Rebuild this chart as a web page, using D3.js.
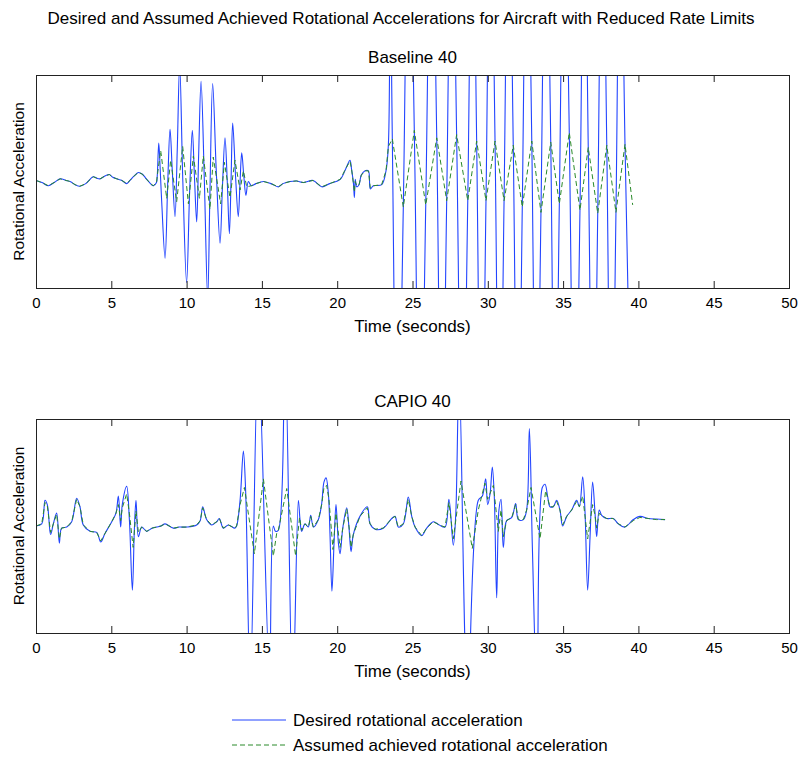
<!DOCTYPE html>
<html>
<head>
<meta charset="utf-8">
<script src="https://cdn.jsdelivr.net/npm/d3@7"></script>
<style>
  body { margin: 0; background: #fff; }
  svg { display: block; }
  text { font-family: "Liberation Sans", Arial, Helvetica, sans-serif; fill: #000; }
</style>
</head>
<body>
<svg id="chart" width="801" height="757"></svg>
<script>
// ---- data: [time (s), rotational acceleration (normalised)] ----
const timeTicks = [0, 5, 10, 15, 20, 25, 30, 35, 40, 45, 50];
const panelTitles = ["Baseline 40", "CAPIO 40"];
const seriesNames = ["Desired rotational acceleration", "Assumed achieved rotational acceleration"];

const baselineDesired = [
  [0, 0.01], [0.4, -0.01], [0.82, -0.04], [1.2, -0.01], [1.6, 0.025], [2.0, 0.01], [2.26, 0.0],
  [2.6, -0.03], [2.9, -0.045], [3.3, -0.02], [3.8, 0.045], [4.05, 0.03], [4.25, 0.025], [4.55, 0.05],
  [4.87, 0.065], [5.1, 0.04], [5.36, 0.025], [5.7, 0.01], [6.02, -0.02], [6.24, 0.01], [6.5, 0.05],
  [6.8, 0.085], [7.05, 0.07], [7.35, 0.02], [7.6, -0.02], [7.79, -0.04], [8.0, -0.01],
  [8.05, 0.05], [8.15, 0.36], [8.22, 0.2], [8.35, -0.2], [8.57, -0.72], [8.75, 0.0], [8.9, 0.49],
  [9.05, 0.1], [9.23, -0.33], [9.38, 0.3], [9.54, 1.1], [9.75, 0.0], [10.0, -0.95], [10.2, -0.1],
  [10.38, 0.48], [10.52, 0.05], [10.67, -0.38], [10.8, 0.25], [10.96, 0.94], [11.18, 0.0], [11.4, -1.1],
  [11.55, -0.1], [11.73, 0.92], [11.97, 0.1], [12.22, -0.58], [12.38, -0.05], [12.55, 0.41], [12.7, 0.0],
  [12.84, -0.49], [12.95, 0.0], [13.06, 0.55], [13.25, 0.05], [13.43, -0.33], [13.55, 0.0], [13.66, 0.27],
  [13.8, 0.05], [13.94, -0.13], [14.1, 0.0], [14.3, -0.04],
  [14.6, -0.02], [15.1, 0.0], [15.6, -0.02], [16.1, -0.05], [16.4, -0.02], [16.87, 0.0], [17.3, 0.005],
  [17.75, -0.01], [18.4, 0.01], [18.97, -0.05], [19.5, -0.02], [20.2, 0.02], [20.6, 0.13], [20.85, 0.2],
  [20.95, 0.12], [21.08, -0.02], [21.14, -0.15], [21.2, 0.02], [21.3, -0.05], [21.45, -0.03], [21.6, 0.06],
  [21.85, 0.1], [22.07, 0.1], [22.2, -0.07], [22.4, -0.04], [22.95, -0.03], [23.24, 0.1], [23.4, 0.35],
  [23.52, 2.0], [23.66, 0.40], [24.0, -3], [24.39, -0.24], [24.75, 3], [25.12, 0.48], [25.5, -3],
  [25.88, -0.22], [26.25, 3], [26.61, 0.41], [26.94, -3], [27.27, -0.18], [27.6, 3], [27.93, 0.44],
  [28.3, -3], [28.67, -0.18], [28.97, 3], [29.26, 0.38], [29.57, -3], [29.88, -0.18], [30.18, 3],
  [30.48, 0.38], [30.78, -3], [31.08, -0.18], [31.38, 3], [31.69, 0.34], [32.0, -3], [32.29, -0.24],
  [32.6, 3], [32.92, 0.38], [33.22, -3], [33.53, -0.29], [33.85, 3], [34.18, 0.37], [34.46, -3],
  [34.75, -0.21], [35.08, 3], [35.41, 0.46], [35.76, -3], [36.12, -0.27], [36.4, 3], [36.67, 0.32],
  [37.0, -3], [37.3, -0.3], [37.6, 3], [37.9, 0.34], [38.2, -3], [38.51, -0.29], [38.8, 3], [39.11, 0.35],
  [39.6, -3]
];

const baselineAchieved = [
  [0, 0.01], [0.4, -0.01], [0.82, -0.04], [1.2, -0.01], [1.6, 0.025], [2.0, 0.01], [2.26, 0.0],
  [2.6, -0.03], [2.9, -0.045], [3.3, -0.02], [3.8, 0.045], [4.05, 0.03], [4.25, 0.025], [4.55, 0.05],
  [4.87, 0.065], [5.1, 0.04], [5.36, 0.025], [5.7, 0.01], [6.02, -0.02], [6.24, 0.01], [6.5, 0.05],
  [6.8, 0.085], [7.05, 0.07], [7.35, 0.02], [7.6, -0.02], [7.79, -0.04], [8.0, -0.01],
  [8.05, 0.05], [8.28, 0.29], [8.68, -0.16], [8.94, 0.2], [9.34, -0.19], [9.74, 0.33], [10.12, -0.21],
  [10.45, 0.24], [10.85, -0.16], [11.11, 0.24], [11.55, -0.26], [11.77, 0.23], [12.26, -0.21],
  [12.51, 0.18], [12.88, -0.15], [13.21, 0.2], [13.55, -0.08], [13.77, 0.1], [13.99, -0.05], [14.3, -0.04],
  [14.6, -0.02], [15.1, 0.0], [15.6, -0.02], [16.1, -0.05], [16.4, -0.02], [16.87, 0.0], [17.3, 0.005],
  [17.75, -0.01], [18.4, 0.01], [18.97, -0.05], [19.5, -0.02], [20.2, 0.02], [20.6, 0.13], [20.85, 0.19],
  [20.95, 0.12], [21.08, -0.02], [21.14, -0.1], [21.2, 0.0], [21.3, -0.04], [21.45, -0.03], [21.6, 0.06],
  [21.85, 0.1], [22.07, 0.1], [22.2, -0.06], [22.4, -0.04], [22.95, -0.03], [23.24, 0.1], [23.4, 0.33],
  [23.66, 0.40], [24.39, -0.24], [25.12, 0.48], [25.88, -0.22], [26.61, 0.41], [27.27, -0.18],
  [27.93, 0.44], [28.67, -0.18], [29.26, 0.38], [29.88, -0.18], [30.48, 0.38], [31.08, -0.18],
  [31.69, 0.34], [32.29, -0.24], [32.92, 0.38], [33.53, -0.29], [34.18, 0.37], [34.75, -0.21],
  [35.41, 0.46], [36.12, -0.27], [36.67, 0.32], [37.3, -0.3], [37.9, 0.34], [38.51, -0.29],
  [39.11, 0.35], [39.62, -0.22]
];

const capioDesired = [
  [0.0, 0.0], [0.38, 0.02], [0.6, 0.24], [0.75, 0.2], [0.97, -0.08], [1.15, 0.02], [1.37, 0.12],
  [1.55, -0.16], [1.7, -0.02], [2.04, -0.01], [2.37, 0.04], [2.7, 0.26], [2.92, 0.18], [3.14, 0.01],
  [3.59, -0.05], [4.03, -0.06], [4.3, -0.15], [4.58, -0.07], [5.03, 0.04], [5.31, 0.12], [5.47, 0.28],
  [5.62, -0.01], [5.73, 0.2], [6.02, 0.37], [6.2, 0.06], [6.4, -0.6], [6.53, -0.04], [6.64, 0.24],
  [6.8, -0.1], [7.02, -0.01], [7.35, -0.05], [7.7, -0.02], [8.01, -0.01], [8.3, 0.0], [8.57, 0.02],
  [9.12, -0.02], [9.5, -0.01], [10.0, -0.01], [10.67, 0.01], [10.9, 0.05], [11.07, 0.18], [11.33, 0.06],
  [11.66, 0.01], [12.0, 0.04], [12.17, 0.07], [12.44, -0.02], [12.77, 0.01], [13.2, -0.02], [13.32, 0.0],
  [13.55, 0.24], [13.77, 0.70], [13.92, 0.33], [14.23, -1.5], [14.76, 1.6], [15.5, -1.4], [15.76, 0.0],
  [15.9, -0.05], [16.09, -0.04], [16.53, 1.6], [17.04, -1.6], [17.42, 0.24], [17.53, 0.06], [17.64, -0.05],
  [17.86, 0.02], [18.08, -0.01], [18.24, 0.1], [18.42, -0.01], [18.75, 0.06], [18.97, 0.21], [19.12, 0.41],
  [19.26, 0.45], [19.41, 0.31], [19.52, -0.07], [19.65, -0.61], [19.79, -0.16], [19.92, 0.2], [20.08, -0.16],
  [20.19, -0.26], [20.37, -0.02], [20.63, 0.17], [20.78, -0.01], [20.92, -0.24], [21.07, -0.08], [21.51, 0.09],
  [22.0, 0.18], [22.18, 0.02], [22.51, -0.03], [23.06, -0.02], [23.62, 0.07], [23.84, 0.09], [24.06, -0.01],
  [24.39, 0.02], [24.72, 0.27], [24.95, 0.09], [25.17, -0.01], [25.61, -0.09], [25.94, -0.02], [26.38, 0.04],
  [26.78, 0.01], [27.16, -0.01], [27.42, 0.25], [27.71, -0.18], [27.87, 0.1], [28.1, 1.4], [28.66, -1.6],
  [29.37, 0.24], [29.64, 0.28], [29.86, 0.44], [29.99, 0.2], [30.15, 0.3], [30.3, 0.55], [30.43, 0.28],
  [30.59, -0.67], [30.74, 0.15], [30.88, 0.25], [31.03, -0.2], [31.25, 0.05], [31.59, 0.08], [31.85, 0.21],
  [32.03, 0.06], [32.36, 0.06], [32.58, 0.15], [32.76, 0.91], [32.96, -0.2], [33.27, -1.6], [33.62, 0.36],
  [33.8, 0.39], [33.98, 0.27], [34.13, 0.18], [34.35, 0.18], [34.57, 0.24], [34.79, 0.15], [34.97, 0.0],
  [35.24, 0.09], [35.57, 0.15], [35.9, 0.24], [36.08, 0.18], [36.3, 0.46], [36.45, 0.15], [36.63, -0.6],
  [36.79, -0.1], [36.96, 0.41], [37.12, 0.12], [37.23, -0.1], [37.4, 0.15], [37.56, 0.1], [37.89, 0.07],
  [38.33, 0.07], [38.67, 0.02], [39.1, -0.01], [39.66, 0.06], [40.1, 0.09], [40.66, 0.07], [41.2, 0.065],
  [41.77, 0.06]
];

const capioAchieved = [
  [0.0, 0.0], [0.38, 0.02], [0.6, 0.22], [0.75, 0.19], [0.97, -0.06], [1.15, 0.02], [1.37, 0.11],
  [1.55, -0.12], [1.7, -0.02], [2.04, -0.01], [2.37, 0.04], [2.7, 0.25], [2.92, 0.18], [3.14, 0.01],
  [3.59, -0.05], [4.03, -0.06], [4.3, -0.14], [4.58, -0.07], [5.03, 0.04], [5.31, 0.12], [5.47, 0.2],
  [5.62, 0.05], [5.73, 0.17], [6.02, 0.3], [6.2, 0.12], [6.45, -0.2], [6.64, 0.14], [6.8, -0.06],
  [7.02, -0.01], [7.35, -0.05], [7.7, -0.02], [8.01, -0.01], [8.3, 0.0], [8.57, 0.02],
  [9.12, -0.02], [9.5, -0.01], [10.0, -0.01], [10.67, 0.01], [10.9, 0.05], [11.07, 0.17], [11.33, 0.06],
  [11.66, 0.01], [12.0, 0.04], [12.17, 0.07], [12.44, -0.02], [12.77, 0.01], [13.2, -0.02], [13.32, 0.0],
  [13.55, 0.2], [13.84, 0.36], [14.5, -0.26], [15.1, 0.44], [15.76, -0.28], [15.98, -0.07], [16.09, -0.04],
  [16.65, 0.35], [17.24, -0.28], [17.5, 0.08], [17.64, -0.04],
  [17.86, 0.02], [18.08, -0.01], [18.24, 0.09], [18.42, -0.01], [18.75, 0.06], [18.97, 0.2], [19.12, 0.36],
  [19.3, 0.38], [19.45, 0.25], [19.72, -0.22], [19.92, 0.12], [20.19, -0.2], [20.37, -0.02], [20.63, 0.16],
  [20.78, 0.0], [20.92, -0.2], [21.07, -0.08], [21.51, 0.09],
  [22.0, 0.17], [22.18, 0.02], [22.51, -0.03], [23.06, -0.02], [23.62, 0.07], [23.84, 0.09], [24.06, -0.01],
  [24.39, 0.02], [24.72, 0.25], [24.95, 0.09], [25.17, -0.01], [25.61, -0.09], [25.94, -0.02], [26.38, 0.04],
  [26.78, 0.01], [27.16, -0.01], [27.42, 0.22], [27.71, -0.12], [27.87, 0.05], [28.22, 0.42], [28.97, -0.21],
  [29.37, 0.15], [29.81, 0.4], [29.99, 0.25], [30.37, 0.38], [30.7, -0.05], [30.88, 0.15], [31.03, -0.1],
  [31.25, 0.05], [31.59, 0.08], [31.85, 0.2], [32.03, 0.06], [32.36, 0.06], [32.58, 0.15], [32.87, 0.36],
  [33.47, -0.12], [33.84, 0.33], [34.13, 0.18], [34.35, 0.18], [34.57, 0.23], [34.79, 0.15], [34.97, 0.01],
  [35.24, 0.09], [35.57, 0.15], [35.9, 0.23], [36.08, 0.18], [36.3, 0.28], [36.63, -0.12], [36.96, 0.2],
  [37.12, 0.1], [37.23, -0.02], [37.4, 0.12], [37.56, 0.1], [37.89, 0.07],
  [38.33, 0.07], [38.67, 0.02], [39.1, -0.01], [39.66, 0.05], [40.1, 0.08], [40.66, 0.07], [41.2, 0.06],
  [41.77, 0.06]
];

// ---- layout ----
const svg = d3.select("#chart");
svg.append("rect").attr("width", 801).attr("height", 757).attr("fill", "#fff");

const plotLeft = 36, plotRight = 789;
const panels = [
  { title: panelTitles[0], desired: baselineDesired, achieved: baselineAchieved, top: 75, bottom: 288 },
  { title: panelTitles[1], desired: capioDesired, achieved: capioAchieved, top: 419, bottom: 633 }
];

const desiredColor = "#2244ff";
const achievedColor = "#2a8a2a";
const dash = "5,3";

svg.append("text")
  .attr("x", 401).attr("y", 24)
  .attr("text-anchor", "middle")
  .attr("font-size", 17)
  .text("Desired and Assumed Achieved Rotational Accelerations for Aircraft with Reduced Rate Limits");

const x = d3.scaleLinear().domain([0, 50]).range([plotLeft, plotRight]);

panels.forEach((p, i) => {
  const y = d3.scaleLinear().domain([-1, 1]).range([p.bottom, p.top]);
  const g = svg.append("g");

  const clipId = "clip" + i;
  svg.append("clipPath").attr("id", clipId)
    .append("rect")
    .attr("x", plotLeft).attr("y", p.top)
    .attr("width", plotRight - plotLeft).attr("height", p.bottom - p.top);

  const desiredLine = d3.line()
    .x(d => x(d[0])).y(d => y(d[1]))
    .curve(d3.curveCatmullRom.alpha(0.5));
  const achievedLine = d3.line()
    .x(d => x(d[0])).y(d => y(d[1]));

  const plot = g.append("g").attr("clip-path", `url(#${clipId})`);
  plot.append("path").datum(p.desired)
    .attr("d", desiredLine)
    .attr("fill", "none").attr("stroke", desiredColor).attr("stroke-width", 1.1);
  plot.append("path").datum(p.achieved)
    .attr("d", achievedLine)
    .attr("fill", "none").attr("stroke", achievedColor).attr("stroke-width", 1)
    .attr("stroke-dasharray", dash);

  // x axes: inward ticks on bottom and top edges
  const bottomAxis = d3.axisBottom(x).tickValues(timeTicks).tickSize(-7).tickPadding(9)
    .tickFormat(d3.format("d"));
  const gb = g.append("g").attr("transform", `translate(0,${p.bottom})`).call(bottomAxis);
  gb.select(".domain").remove();
  gb.selectAll("line").attr("stroke", "#222");
  gb.selectAll("text").attr("font-size", 15).attr("font-family", '"Liberation Sans", Arial, sans-serif').attr("fill", "#000");

  const topAxis = d3.axisTop(x).tickValues(timeTicks).tickSize(-7).tickFormat("");
  const gt = g.append("g").attr("transform", `translate(0,${p.top})`).call(topAxis);
  gt.select(".domain").remove();
  gt.selectAll("line").attr("stroke", "#222");

  // frame
  g.append("rect")
    .attr("x", plotLeft + 0.5).attr("y", p.top + 0.5)
    .attr("width", plotRight - plotLeft).attr("height", p.bottom - p.top)
    .attr("fill", "none").attr("stroke", "#222").attr("stroke-width", 1);

  g.append("text")
    .attr("x", (plotLeft + plotRight) / 2).attr("y", p.top - 12)
    .attr("text-anchor", "middle").attr("font-size", 17)
    .text(p.title);

  g.append("text")
    .attr("x", (plotLeft + plotRight) / 2).attr("y", p.bottom + 44)
    .attr("text-anchor", "middle").attr("font-size", 17)
    .text("Time (seconds)");

  g.append("text")
    .attr("transform", `translate(24,${(p.top + p.bottom) / 2}) rotate(-90)`)
    .attr("text-anchor", "middle").attr("font-size", 15.5)
    .text("Rotational Acceleration");
});

// legend
const legend = svg.append("g");
const legendRows = [
  { name: seriesNames[0], color: desiredColor, dash: null, y: 720 },
  { name: seriesNames[1], color: achievedColor, dash: dash, y: 745 }
];
legendRows.forEach(r => {
  legend.append("line")
    .attr("x1", 232).attr("x2", 286).attr("y1", r.y).attr("y2", r.y)
    .attr("stroke", r.color).attr("stroke-width", 1)
    .attr("stroke-dasharray", r.dash);
  legend.append("text")
    .attr("x", 293).attr("y", r.y + 6)
    .attr("font-size", 17)
    .text(r.name);
});
</script>
</body>
</html>
